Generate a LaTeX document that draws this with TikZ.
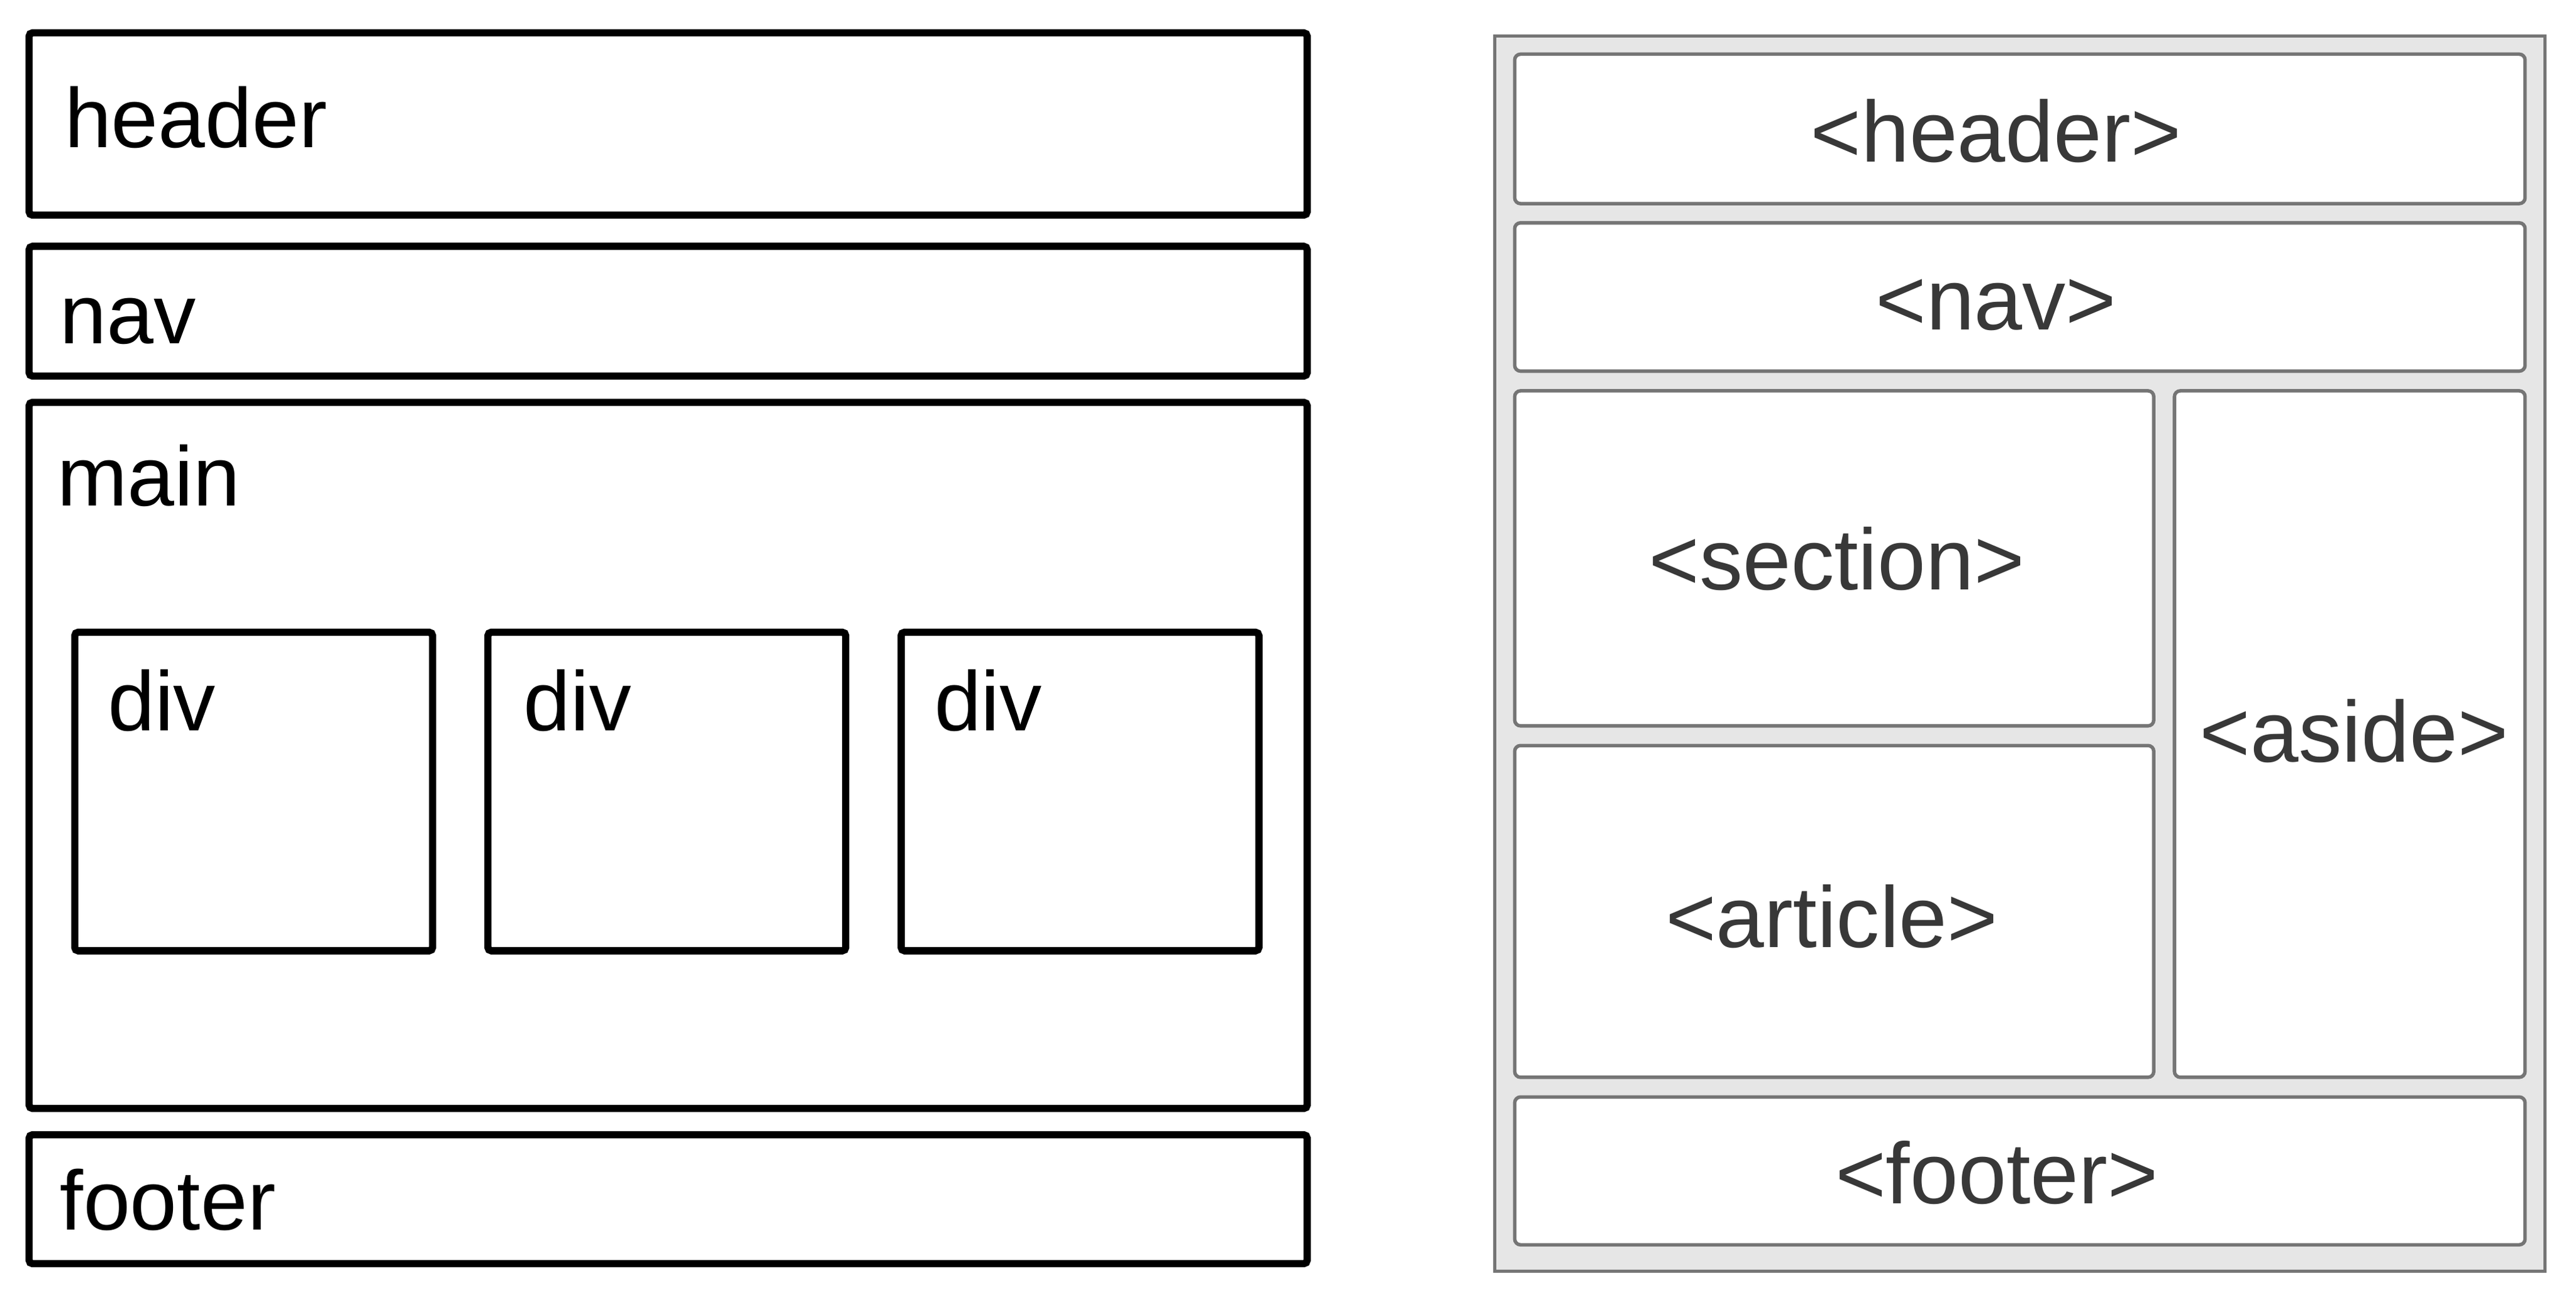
\documentclass[tikz,border=0pt]{standalone}
\usepackage{fontspec}
\setmainfont{Liberation Sans}
\usepackage{tikz}
\definecolor{framegray}{HTML}{757575}
\definecolor{gapgray}{HTML}{E6E6E6}
\definecolor{tagtext}{HTML}{383838}
\tikzset{
	blockline/.style={line width=1.25pt, rounded corners=.6pt},
	tagline/.style={draw=framegray, line width=.6pt, fill=white, rounded corners=1pt},
	blocklabel/.style={anchor=base west, inner sep=0pt, text=black, font=\fontsize{14.6pt}{17pt}\selectfont},
	taglabel/.style={anchor=base, inner sep=0pt, text=tagtext}
}

\begin{document}
\begin{tikzpicture}[x=0.01cm,y=-0.01cm,font=\fontsize{15pt}{18pt}\selectfont]
	\useasboundingbox (0,0) rectangle (1568,795);

	% draw left boxes
	\draw[blockline] (17.7,20) rectangle (795.7,131);
	\draw[blockline] (17.7,150) rectangle (795.7,229);
	\draw[blockline] (17.7,245) rectangle (795.7,675);
	\draw[blockline] (17.7,691) rectangle (795.7,769.5);
	\foreach \x [count=\i] in {45.5,297,548.5}
		\draw[blockline] (\x,385) rectangle ++(217.8,194);

	% left labels
	\node[blocklabel] (header) at (38.6,90) {header};
	\node[blocklabel] (nav) at (35.7,209.4) {nav};
	\node[blocklabel] (main) at (34.2,308) {main};
	\foreach \x [count=\i] in {65,318,568}
		\node[blocklabel] (div\i) at (\x,444.8) {div};
	\node[blocklabel] (footer) at (35.8,749) {footer};

	% draw right frame
	\draw[draw=framegray, line width=.55pt, fill=gapgray] (910,22) rectangle (1549,774);
	\draw[tagline] (922,33) rectangle (1537,124);
	\draw[tagline] (922,135.7) rectangle (1537,226);
	\draw[tagline] (922,238) rectangle (1311,442);
	\draw[tagline] (922,454) rectangle (1311,656);
	\draw[tagline] (1323.6,238) rectangle (1537,656);
	\draw[tagline] (922,668) rectangle (1537,758);

	% right labels
	\node[taglabel] (tagheader) at (1215,98.5) {<header>};
	\node[taglabel] (tagnav) at (1215,201) {<nav>};
	\node[taglabel] (tagsection) at (1118,359) {<section>};
	\node[taglabel] (tagarticle) at (1115,577) {<article>};
	\node[taglabel] (tagaside) at (1433,464) {<aside>};
	\node[taglabel] (tagfooter) at (1215.5,733) {<footer>};
\end{tikzpicture}
\end{document}
